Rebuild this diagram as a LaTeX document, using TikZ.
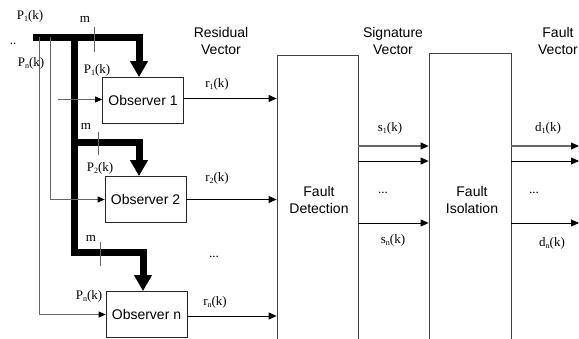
\documentclass[tikz,border=0pt]{standalone}
\usepackage{fontspec}
\setmainfont{Liberation Serif}
\newfontfamily\arialf{Liberation Sans}
\usetikzlibrary{arrows.meta}
\newcommand{\lsub}[1]{\raisebox{-0.35ex}{\fontsize{8}{8}\selectfont #1}}
\begin{document}
\begin{tikzpicture}[x=1pt,y=-1pt,
  lab/.style={font=\fontsize{13}{13}\selectfont, inner sep=0pt},
  txt/.style={font=\arialf\fontsize{14}{16.5}\selectfont, align=center, inner sep=0pt},
  obs/.style={draw=black!85, line width=0.8pt, minimum width=81pt, minimum height=46pt, inner sep=0pt, font=\arialf\fontsize{14}{16}\selectfont},
  bigbox/.style={draw=black!75, line width=0.8pt, inner sep=0pt},
  thick/.style={line width=7pt, line join=miter},
  bigarrow/.style={thick, -{Triangle[length=16pt,width=17pt]}},
  thin/.style={line width=0.8pt, draw=black!60},
  sig/.style={line width=0.9pt, -{Triangle[length=8pt,width=7pt]}},
  gsig/.style={line width=1.1pt, draw=black!60, -{Triangle[length=8pt,width=7pt,color=black]}},
  tick/.style={line width=0.7pt, draw=black!60}
]
\useasboundingbox (0,0) rectangle (579,339);

% observer boxes
\node[obs] (o1) at (143,100.5) {Observer 1};
\node[obs] (o2) at (145.5,199.5) {Observer 2};
\node[obs] (on) at (146.5,314.5) {Observer n};

% big boxes
\node[bigbox, minimum width=81pt, minimum height=288pt] (fd) at (317.5,199) {};
\node[bigbox, minimum width=82pt, minimum height=290pt] (fi) at (470,198) {};
\node[txt] (fdt) at (319,200) {Fault\\Detection};
\node[txt] (fit) at (472,200) {Fault\\Isolation};

% column titles
\node[txt] (rv) at (221,41) {Residual\\Vector};
\node[txt] (sv) at (393,41) {Signature\\Vector};
\node[txt] (fv) at (558,41) {Fault\\Vector};

% thick bus
\coordinate (b0) at (33,37.5);
\coordinate (bj1) at (74,37.5);
\coordinate (bj3) at (74,253);
\draw[bigarrow] (b0) -- (139,37.5) -- (o1.north -| 139,0);
\draw[thick] (bj1) -- (bj3);
\draw[bigarrow] (74,143) -- (139,143) -- (o2.north -| 139,0);
\draw[bigarrow] (70.5,253) -- (143,253) -- (on.north -| 143,0);

% thin inputs
\coordinate (t1) at (50,37.5);
\coordinate (t2) at (39,37.5);
\coordinate (i1) at (58,99.5);
\draw[thin, -{Triangle[length=7pt,width=6pt,color=black]}] (i1) -- (i1 -| o1.west);
\draw[thin, -{Triangle[length=7pt,width=6pt,color=black]}] (t1) |- (o2.west);
\draw[thin, -{Triangle[length=7pt,width=6pt,color=black]}] (t2) |- (on.west);

% ticks and m labels
\coordinate (k1a) at (94,27); \coordinate (k1b) at (94,52);
\coordinate (k2a) at (98,132); \coordinate (k2b) at (98,155);
\coordinate (k3a) at (100,242); \coordinate (k3b) at (100,266);
\draw[tick] (k1a) -- (k1b);
\draw[tick] (k2a) -- (k2b);
\draw[tick] (k3a) -- (k3b);
\node[lab] (m1) at (85,19) {m};
\node[lab] (m2) at (86,126) {m};
\node[lab] (m3) at (91,238) {m};

% P labels
\node[lab] (p1top) at (30,16) {P\lsub{1}(k)};
\node[lab] (dd) at (13,44) {..};
\node[lab] (pnleft) at (31,63) {P\lsub{n}(k)};
\node[lab] (p1) at (97,70) {P\lsub{1}(k)};
\node[lab] (p2) at (100,168) {P\lsub{2}(k)};
\node[lab] (pn) at (89,296) {P\lsub{n}(k)};

% residual arrows
\draw[sig] (o1.east |- 0,98.5) -- (fd.west |- 0,98.5);
\draw[sig] (o2.east) -- (o2.east -| fd.west);
\draw[sig] (on.east |- 0,316) -- (fd.west |- 0,316);
\node[lab] (r1) at (217,84) {r\lsub{1}(k)};
\node[lab] (r2) at (217,178) {r\lsub{2}(k)};
\node[lab] (rd) at (214,257) {...};
\node[lab] (rn) at (215,302) {r\lsub{n}(k)};

% signature arrows
\draw[gsig] (fd.east |- 0,146) -- (fi.west |- 0,146);
\draw[sig] (fd.east |- 0,161) -- (fi.west |- 0,161);
\draw[sig] (fd.east |- 0,223) -- (fi.west |- 0,223);
\node[lab] (s1) at (390,128) {s\lsub{1}(k)};
\node[lab] (sd) at (383,193) {...};
\node[lab] (sn) at (393,240) {s\lsub{n}(k)};

% fault arrows
\coordinate (e1) at (579,146);
\coordinate (e2) at (579,161);
\coordinate (e3) at (579,223);
\draw[gsig] (fi.east |- e1) -- (e1);
\draw[sig] (fi.east |- e2) -- (e2);
\draw[sig] (fi.east |- e3) -- (e3);
\node[lab] (d1) at (548,128) {d\lsub{1}(k)};
\node[lab] (ddots) at (534,193) {...};
\node[lab] (dn) at (552,243) {d\lsub{n}(k)};
\end{tikzpicture}
\end{document}
